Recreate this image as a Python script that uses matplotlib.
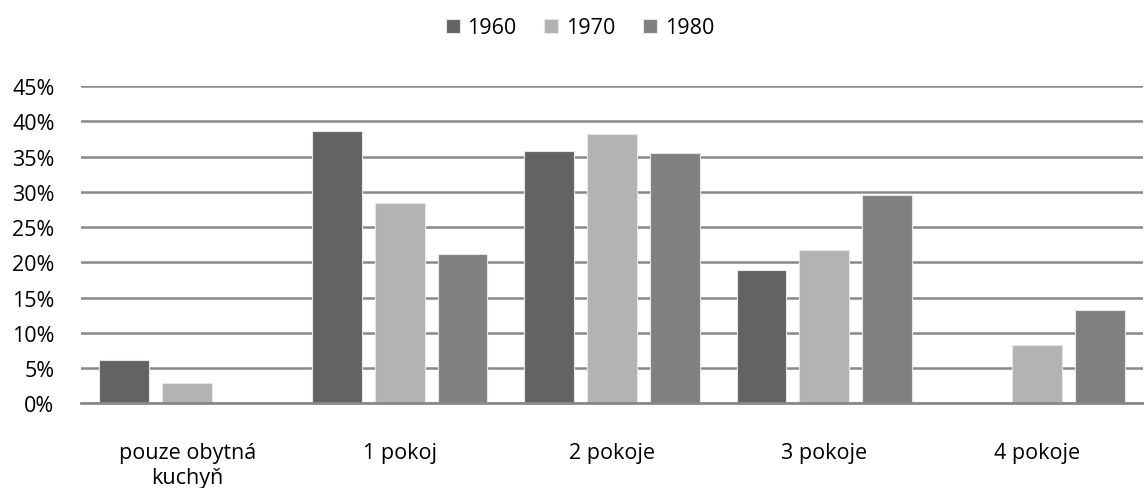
import matplotlib
matplotlib.use("Agg")
import matplotlib.pyplot as plt
import numpy as np
from matplotlib.ticker import PercentFormatter

categories = ["pouze obytná\nkuchyň", "1 pokoj", "2 pokoje", "3 pokoje", "4 pokoje"]
series_names = ["1960", "1970", "1980"]
v1960 = [0.062, 0.386, 0.358, 0.189, 0.0]
v1970 = [0.029, 0.284, 0.382, 0.217, 0.083]
v1980 = [0.0, 0.212, 0.355, 0.295, 0.133]
colors = ["#636363", "#b3b3b3", "#808080"]

plt.rcParams['font.family'] = ['Open Sans', 'DejaVu Sans']

fig = plt.figure(figsize=(11.44, 4.89), dpi=100)
ax = fig.add_axes([81/1144, 1-404.3/489, (1143-81)/1144, (404.3-87)/489])

x = np.arange(len(categories))
w = 0.235
step = 0.296
for i, (vals, name, c) in enumerate(zip([v1960, v1970, v1980], series_names, colors)):
    ax.bar(x + (i-1)*step, vals, width=w, color=c, edgecolor="#e6e6e6", linewidth=0.8,
           label=name, zorder=3)

ax.set_xlim(-0.5, len(categories)-0.5)
ax.set_ylim(0, 0.45)
ax.set_yticks(np.arange(0, 0.451, 0.05))
ax.yaxis.set_major_formatter(PercentFormatter(1.0, decimals=0))
ax.grid(axis='y', color="#898989", linewidth=1.8, zorder=0)
ax.set_axisbelow(True)
for s in ["top", "right", "left"]:
    ax.spines[s].set_visible(False)
ax.spines["bottom"].set_color("#898989")
ax.spines["bottom"].set_linewidth(2)
ax.spines["bottom"].set_zorder(4)
ax.tick_params(axis='both', length=0, labelsize=15.5, colors="#000000")
ax.tick_params(axis='y', pad=19)
ax.tick_params(axis='x', pad=28)
ax.set_xticks(x)
ax.set_xticklabels(categories, linespacing=1.25)

fig.legend(loc="upper center", bbox_to_anchor=(0.507, 1.0), ncol=3, frameon=False,
           fontsize=15.5, handlelength=0.65, handleheight=0.65, handletextpad=0.35,
           columnspacing=1.3, borderaxespad=0.45)

fig.savefig("out.png", dpi=100)
